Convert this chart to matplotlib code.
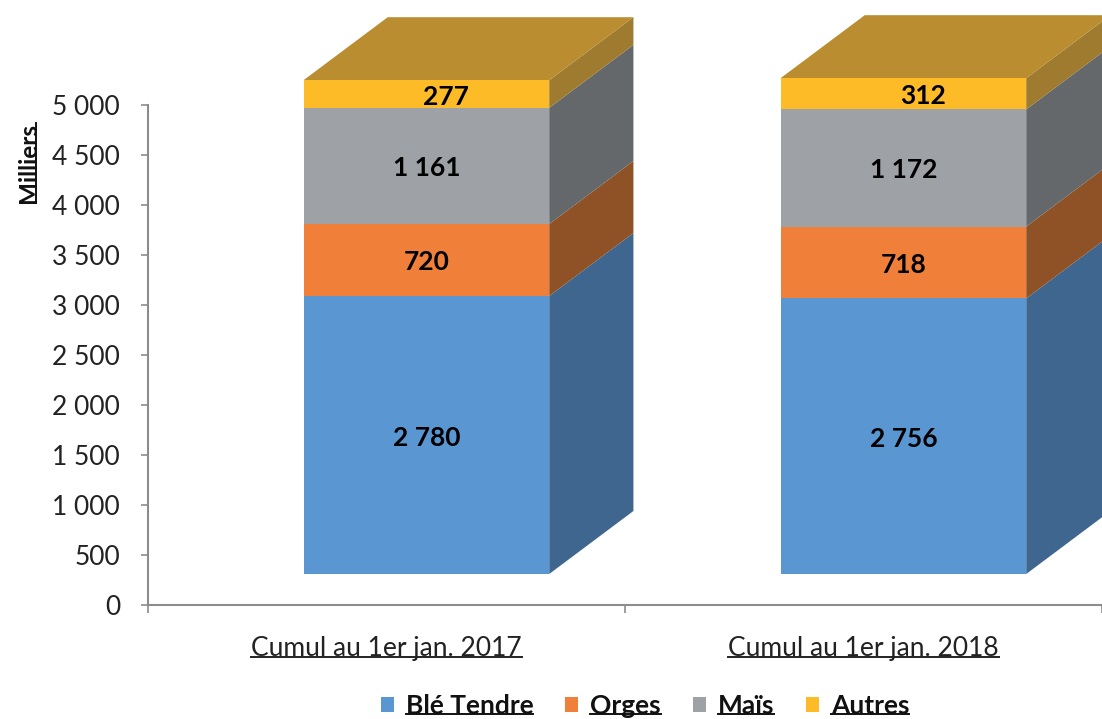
import matplotlib
matplotlib.use("Agg")
import matplotlib.pyplot as plt
from matplotlib.patches import Polygon, Patch
from matplotlib.lines import Line2D
import numpy as np

plt.rcParams['font.family'] = ['Lato', 'DejaVu Sans']

categories = ["Cumul au 1er jan. 2017", "Cumul au 1er jan. 2018"]
series_names = ["Blé Tendre", "Orges", "Maïs", "Autres"]
ble = [2780, 2756]
orges = [720, 718]
mais = [1161, 1172]
autres = [277, 312]
series = [ble, orges, mais, autres]

front_colors = ["#5A97D2", "#EF7F39", "#9EA1A5", "#FDBB28"]
side_colors = ["#3F668F", "#8E5226", "#65686B", "#9E7B2E"]
top_color = "#B98D30"

FS = 19

W, H = 1102, 719
fig = plt.figure(figsize=(W / 100, H / 100), dpi=100)
ax = fig.add_axes([148 / W, (H - 605) / H, (W - 148) / W, 605 / H])

cat_px = 481.5
ax.set_xlim(0, (W - 148) / cat_px)
ax.set_ylim(0, 6050)

base = 310          # floor offset of the 3D front face (value units)
x_off = 157 / cat_px  # front face left edge inside category
bw = 248 / cat_px     # front face width
ddx = 85 / cat_px     # depth shift in x
ddy = 630             # depth shift in y (value units)

for i in range(len(categories)):
    x0 = i + x_off
    x1 = x0 + bw
    bottom = base
    for s, vals in enumerate(series):
        v = vals[i]
        top = bottom + v
        ax.bar(x0, v, bottom=bottom, width=bw, align='edge',
               color=front_colors[s], linewidth=0, zorder=3)
        side = Polygon([(x1, bottom), (x1 + ddx, bottom + ddy),
                        (x1 + ddx, top + ddy), (x1, top)],
                       closed=True, facecolor=side_colors[s], edgecolor='none', zorder=2)
        ax.add_patch(side)
        label = f"{v:,}".replace(",", " ")
        xc = (x0 + x1) / 2 + (0.042 if s == 3 else 0)
        ax.text(xc, bottom + v / 2 - 25, label, ha='center', va='center',
                fontsize=FS, fontweight='bold', color='black', zorder=5)
        bottom = top
    topface = Polygon([(x0, bottom), (x1, bottom), (x1 + ddx, bottom + ddy),
                       (x0 + ddx, bottom + ddy)], closed=True,
                      facecolor=top_color, edgecolor='none', zorder=2)
    ax.add_patch(topface)

# axes styling
for sp in ['top', 'right']:
    ax.spines[sp].set_visible(False)
ax.spines['left'].set_bounds(0, 5000)
ax.spines['left'].set_color('#8c8c8c')
ax.spines['bottom'].set_color('#8c8c8c')
ax.spines['left'].set_linewidth(1.5)
ax.spines['bottom'].set_linewidth(1.5)

yt = np.arange(0, 5001, 500)
ax.set_yticks(yt)
ax.set_yticklabels([f"{int(t):,}".replace(",", " ") for t in yt])
ax.tick_params(axis='y', length=5, width=1.2, color='#8c8c8c', pad=15,
               labelsize=FS, labelcolor='#222222')

ax.set_xticks([0, 1, 2])
ax.set_xticklabels([])
ax.set_xticks([0.5, 1.5], minor=True)
ax.set_xticklabels(categories, minor=True)
ax.tick_params(axis='x', which='major', length=6, width=1.2, color='#8c8c8c')
ax.tick_params(axis='x', which='minor', length=0, pad=22, labelsize=FS,
               labelcolor='#222222')

ylab = fig.text(28 / W, (H - 163) / H, "Milliers", rotation=90, ha='center', va='center',
                fontsize=17.5, fontweight='bold', color='#111111')

handles = [Patch(facecolor=c, edgecolor='none') for c in front_colors]
leg = fig.legend(handles, series_names, loc='center', bbox_to_anchor=(645 / W, (H - 706) / H),
                 ncol=4, frameon=False, handlelength=0.5, handleheight=0.5,
                 handletextpad=0.45, columnspacing=1.2,
                 prop={'size': FS, 'weight': 'bold'})
for t in leg.get_texts():
    t.set_color('#111111')

fig.canvas.draw()
renderer = fig.canvas.get_renderer()
inv = fig.transFigure.inverted()

def underline_h(t, fs):
    fs_px = fs * 100 / 72
    bb = t.get_window_extent(renderer)
    y = bb.y0 + 0.14 * fs_px
    (a, b), (c, d) = inv.transform([(bb.x0, y), (bb.x1, y)])
    fig.add_artist(Line2D([a, c], [b, d], transform=fig.transFigure,
                          color=t.get_color(), lw=1.4))

for t in ax.get_xticklabels(minor=True):
    underline_h(t, FS)
for t in leg.get_texts():
    underline_h(t, FS)

bb = ylab.get_window_extent(renderer)
x = bb.x1 - 0.14 * 17.5 * 100 / 72
(a, b), (c, d) = inv.transform([(x, bb.y0), (x, bb.y1)])
fig.add_artist(Line2D([a, c], [b, d], transform=fig.transFigure, color='#111111', lw=1.4))

fig.savefig("out.png", dpi=100)
